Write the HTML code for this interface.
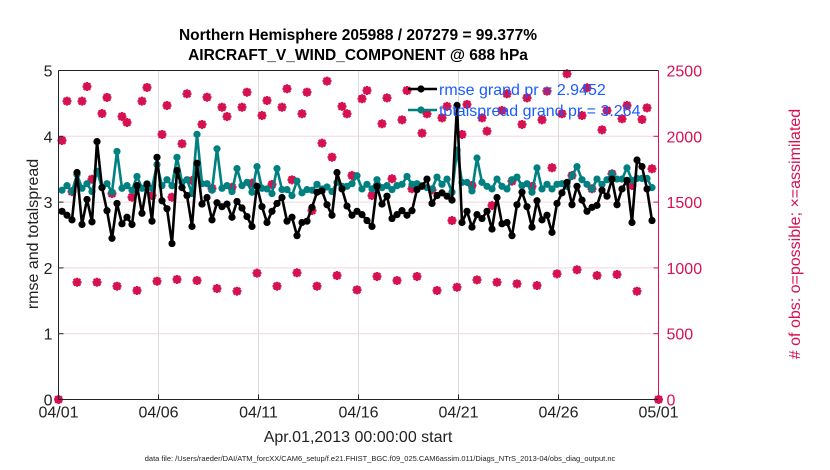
<!DOCTYPE html>
<html><head><meta charset="utf-8"><style>
body{margin:0;background:#fff;}
svg{display:block;font-family:"Liberation Sans",Arial,sans-serif;}
</style></head><body>
<svg id="chart" width="830" height="470" viewBox="0 0 830 470">
<rect width="830" height="470" fill="#fff"/>
<g id="grid"></g>
<g id="series"></g>
<g id="axes"></g>
<text x="358" y="40" text-anchor="middle" font-size="15.5" font-weight="bold">Northern Hemisphere 205988 / 207279 = 99.377%</text>
<text x="358" y="60" text-anchor="middle" font-size="15.5" font-weight="bold">AIRCRAFT_V_WIND_COMPONENT @ 688 hPa</text>
<text x="358" y="442" text-anchor="middle" font-size="16" fill="#222">Apr.01,2013 00:00:00 start</text>
<text transform="translate(38,234) rotate(-90)" text-anchor="middle" font-size="16" fill="#222">rmse and totalspread</text>
<text transform="translate(800,234) rotate(-90)" text-anchor="middle" font-size="16" fill="#d6114f"># of obs: o=possible; ×=assimilated</text>
<text x="380" y="461" text-anchor="middle" font-size="7.5" fill="#222">data file: /Users/raeder/DAI/ATM_forcXX/CAM6_setup/f.e21.FHIST_BGC.f09_025.CAM6assim.011/Diags_NTrS_2013-04/obs_diag_output.nc</text>
<g id="legend"></g>
</svg>
<script>
const xTickLabels=["04/01","04/06","04/11","04/16","04/21","04/26","05/01"];
const xTickDays=[0,5,10,15,20,25,30];
const yLeftTicks=[0,1,2,3,4,5];
const yRightTicks=[0,500,1000,1500,2000,2500];
const rmse=[2.86,2.80,2.73,3.45,2.66,3.04,2.70,3.92,3.22,2.87,2.45,2.98,2.67,2.77,2.66,3.25,2.83,3.27,2.71,3.68,3.02,2.90,2.37,3.48,3.22,3.10,2.63,3.59,2.97,3.07,2.73,2.99,2.93,2.97,2.77,3.01,2.91,2.78,2.63,3.24,2.93,
2.69,2.86,2.98,3.07,2.71,2.77,2.49,2.69,2.71,2.92,3.15,3.17,2.96,2.80,3.45,3.20,2.94,2.80,2.86,2.81,2.72,2.63,3.24,2.97,3.09,2.75,2.81,2.87,2.80,2.87,3.19,3.24,3.35,2.98,3.10,3.14,3.09,3.03,4.47,2.69,
2.86,2.62,2.81,2.75,2.86,2.59,3.07,2.67,2.69,2.49,2.96,3.15,2.93,2.62,3.02,2.73,2.80,2.54,2.98,3.14,3.30,2.96,3.24,3.03,2.86,2.92,2.95,3.18,3.09,3.35,2.96,3.20,3.33,2.69,3.64,3.54,3.20,2.72];
const spread=[3.18,3.25,3.16,3.42,3.21,3.28,3.16,3.47,3.22,3.28,3.15,3.77,3.21,3.25,3.18,3.39,3.21,3.28,3.21,3.57,3.25,3.34,3.25,3.68,3.30,3.34,3.13,4.03,3.28,3.28,3.18,3.81,3.21,3.25,3.16,3.51,3.25,3.30,3.15,3.54,3.21,
3.20,3.13,3.51,3.19,3.19,3.10,3.32,3.14,3.19,3.18,3.27,3.20,3.23,3.16,3.30,3.24,3.24,3.28,3.40,3.20,3.27,3.20,3.34,3.22,3.25,3.19,3.25,3.27,3.39,3.27,3.28,3.25,3.22,3.20,3.38,3.27,3.35,3.15,3.79,3.30,
3.30,3.17,3.67,3.30,3.24,3.20,3.35,3.24,3.20,3.34,3.38,3.25,3.28,3.15,3.52,3.20,3.27,3.20,3.27,3.28,3.24,3.40,3.54,3.34,3.27,3.20,3.35,3.27,3.34,3.43,3.35,3.35,3.52,3.33,3.36,3.36,3.36,3.22];
const nobs=[1968,2267,1580,891,2267,2378,1674,891,2173,2295,1565,861,2150,2105,1537,828,2267,2371,1550,899,2014,2234,1537,912,1943,2323,1664,904,2090,2297,1603,843,2221,2150,1613,823,2221,2335,1644,960,2158,
2272,1634,861,2221,2361,1669,963,2171,2335,1436,861,1948,2419,1841,942,2227,2171,1702,833,2285,2348,1550,935,2095,2292,1677,904,2125,2348,1601,935,2024,2171,1593,828,2140,2227,1360,853,2014,
2242,1626,909,2140,2039,1474,891,2196,2323,1659,879,2090,2292,1619,866,2125,2343,1761,955,2171,2475,1702,986,2158,2369,1601,942,2049,2196,1715,950,2133,2234,1626,823,2128,2216,1753];
const edgeDays=[0,30];
const edgeObs=[0,0];

const NS="http://www.w3.org/2000/svg";
const X0=58.5,X1=658.5,YB=399.5,YT=70.5;
const xs=d=>X0+(d/30)*(X1-X0);
const yl=v=>YB-(v/5)*(YB-YT);
const yr=v=>YB-(v/2500)*(YB-YT);
const tDay=i=>(i+0.7)/4;
const PINK="#d6114f",TEAL="#008080";
function mk(tag,attrs,parent){const e=document.createElementNS(NS,tag);for(const k in attrs)e.setAttribute(k,attrs[k]);parent.appendChild(e);return e;}
const grid=document.getElementById('grid'),ser=document.getElementById('series'),ax=document.getElementById('axes'),leg=document.getElementById('legend');

xTickDays.forEach((d,i)=>{
 const l=mk('line',{x1:xs(d),x2:xs(d),y1:YT,y2:YB,stroke:'#dcdcdc','stroke-width':1},grid);
 
 
 const t=mk('text',{x:xs(d),y:YB+18,'text-anchor':'middle','font-size':16,fill:'#222'},ax);
 t.textContent=xTickLabels[i];
 
 
 const tk=mk('line',{x1:xs(d),x2:xs(d),y1:YB,y2:YB-5,stroke:'#222'},ax);
 
 
});
yLeftTicks.forEach(v=>{
 const y=yl(v);
 if(v>0&&v<5){const g=mk('line',{x1:X0,x2:X1,y1:y,y2:y,stroke:'#f0d8e0','stroke-width':1},grid);
 
 }
 const t=mk('text',{x:X0-6,y:y+6,'text-anchor':'end','font-size':16,fill:'#222'},ax);
 t.textContent=v;
 
 
 const tk=mk('line',{x1:X0,x2:X0+5,y1:y,y2:y,stroke:'#222'},ax);
 
 
});
yRightTicks.forEach(v=>{
 const y=yr(v);
 const t=mk('text',{x:X1+8,y:y+6,'font-size':16,fill:PINK},ax);
 t.textContent=v;
 
 
 const tk=mk('line',{x1:X1-5,x2:X1,y1:y,y2:y,stroke:PINK},ax);
 
 
});
let a=mk('line',{x1:X0,x2:X0,y1:YT,y2:YB,stroke:'#222'},ax);
a=mk('line',{x1:X0,x2:X1,y1:YT,y2:YT,stroke:'#222'},ax);
a=mk('line',{x1:X0,x2:X1,y1:YB,y2:YB,stroke:'#222'},ax);
a=mk('line',{x1:X1,x2:X1,y1:YT,y2:YB,stroke:PINK},ax);

function obsMarker(x,y,name){
 const g=mk('g',{},ser);
 
 
 mk('circle',{cx:x,cy:y,r:3.4,fill:'none',stroke:PINK,'stroke-width':1.3},g);
 mk('path',{d:`M${x-4.5},${y}H${x+4.5}M${x},${y-4.5}V${y+4.5}M${x-3.3},${y-3.3}L${x+3.3},${y+3.3}M${x-3.3},${y+3.3}L${x+3.3},${y-3.3}`,stroke:PINK,'stroke-width':2.2},g);
}
nobs.forEach((v,i)=>obsMarker(xs(tDay(i)),yr(v),'obs-count-point'));
edgeDays.forEach((d,i)=>obsMarker(xs(d),yr(edgeObs[i]),'obs-count-zero-point'));

function line(arr,color,name){
 const pts=arr.map((v,i)=>xs(tDay(i)).toFixed(1)+','+yl(v).toFixed(1)).join(' ');
 const p=mk('polyline',{points:pts,fill:'none',stroke:color,'stroke-width':2.6,'stroke-linejoin':'round'},ser);
 
 
 arr.forEach((v,i)=>{const c=mk('circle',{cx:xs(tDay(i)),cy:yl(v),r:3.6,fill:color},ser);
 
 });
}
line(spread,TEAL,'totalspread');
line(rmse,'#000','rmse');

function legEntry(y,color,label,name){
 const g=mk('g',{},leg);
 
 
 mk('line',{x1:408,x2:437,y1:y,y2:y,stroke:color,'stroke-width':2.6},g);
 mk('circle',{cx:421,cy:y,r:3.6,fill:color},g);
 const t=mk('text',{x:439,y:y+6,'font-size':16,fill:'#1a5cff'},g);
 t.textContent=label;
}
legEntry(89,'#000','rmse grand pr = 2.9452','legend-entry-rmse');
legEntry(110,TEAL,'totalspread grand pr = 3.264','legend-entry-totalspread');
</script>
</body></html>
